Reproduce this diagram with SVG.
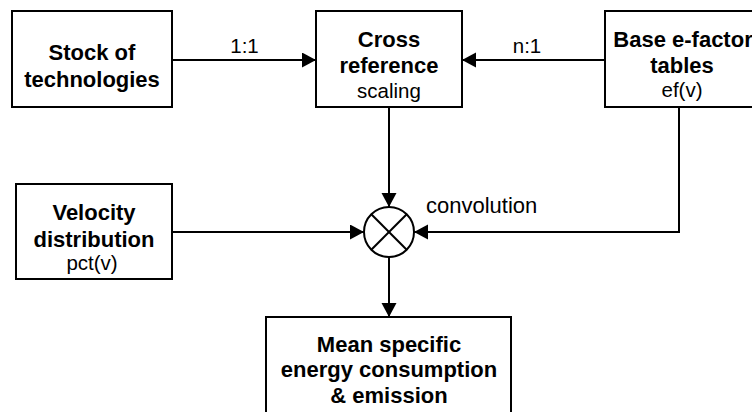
<svg xmlns="http://www.w3.org/2000/svg" width="752" height="412" viewBox="0 0 752 412">
<defs>
<style>
.box{fill:#fff;stroke:#000;stroke-width:2}
.b{font-family:"Liberation Sans",Arial,sans-serif;font-weight:bold;font-size:22px;fill:#000;text-anchor:middle}
.r{font-family:"Liberation Sans",Arial,sans-serif;font-size:20.5px;fill:#000;text-anchor:middle}
.c{fill:none;stroke:#000;stroke-width:2}
</style>
<marker id="ah" markerUnits="userSpaceOnUse" markerWidth="15" markerHeight="16" refX="14" refY="7.5" orient="auto">
<path d="M0,0 L14,7.5 L0,15 z" fill="#000"/>
</marker>
</defs>
<rect width="752" height="412" fill="#fff"/>
<g id="connectors">
<line class="c" x1="173" y1="60" x2="316" y2="60" marker-end="url(#ah)"/>
<line class="c" x1="605" y1="60" x2="462" y2="60" marker-end="url(#ah)"/>
<line class="c" x1="389" y1="107" x2="389" y2="207" marker-end="url(#ah)"/>
<line class="c" x1="172" y1="232" x2="364" y2="232" marker-end="url(#ah)"/>
<polyline class="c" points="679,107 679,232 414,232" marker-end="url(#ah)"/>
<line class="c" x1="389" y1="257" x2="389" y2="317" marker-end="url(#ah)"/>
<text class="r" x="244.5" y="53">1:1</text>
<text class="r" x="527" y="53">n:1</text>
<text class="r" x="426" y="213" style="text-anchor:start;font-size:22px">convolution</text>
</g>
<g id="stock">
<rect class="box" x="12" y="11" width="160" height="96"/>
<text class="b" x="92" y="60">Stock of</text>
<text class="b" x="92" y="86.5">technologies</text>
</g>
<g id="cross">
<rect class="box" x="316" y="11" width="146" height="96"/>
<text class="b" x="389" y="46.5">Cross</text>
<text class="b" x="389" y="73">reference</text>
<text class="r" x="389" y="98">scaling</text>
</g>
<g id="base">
<rect class="box" x="605" y="11" width="152" height="96"/>
<text class="b" x="683" y="46.5">Base e-factor</text>
<text class="b" x="682" y="72.5">tables</text>
<text class="r" x="682" y="97">ef(v)</text>
</g>
<g id="velocity">
<rect class="box" x="16" y="184" width="156" height="95"/>
<text class="b" x="94" y="220">Velocity</text>
<text class="b" x="94" y="246.5">distribution</text>
<text class="r" x="92" y="270">pct(v)</text>
</g>
<g id="convolution">
<circle cx="389" cy="232" r="25" fill="#fff" stroke="#000" stroke-width="2"/>
<line x1="371.3" y1="214.3" x2="406.7" y2="249.7" stroke="#000" stroke-width="2"/>
<line x1="406.7" y1="214.3" x2="371.3" y2="249.7" stroke="#000" stroke-width="2"/>
</g>
<g id="output">
<rect class="box" x="266" y="317" width="245" height="110"/>
<text class="b" x="389" y="351.5">Mean specific</text>
<text class="b" x="389" y="377">energy consumption</text>
<text class="b" x="389" y="403">&amp; emission</text>
</g>
</svg>
